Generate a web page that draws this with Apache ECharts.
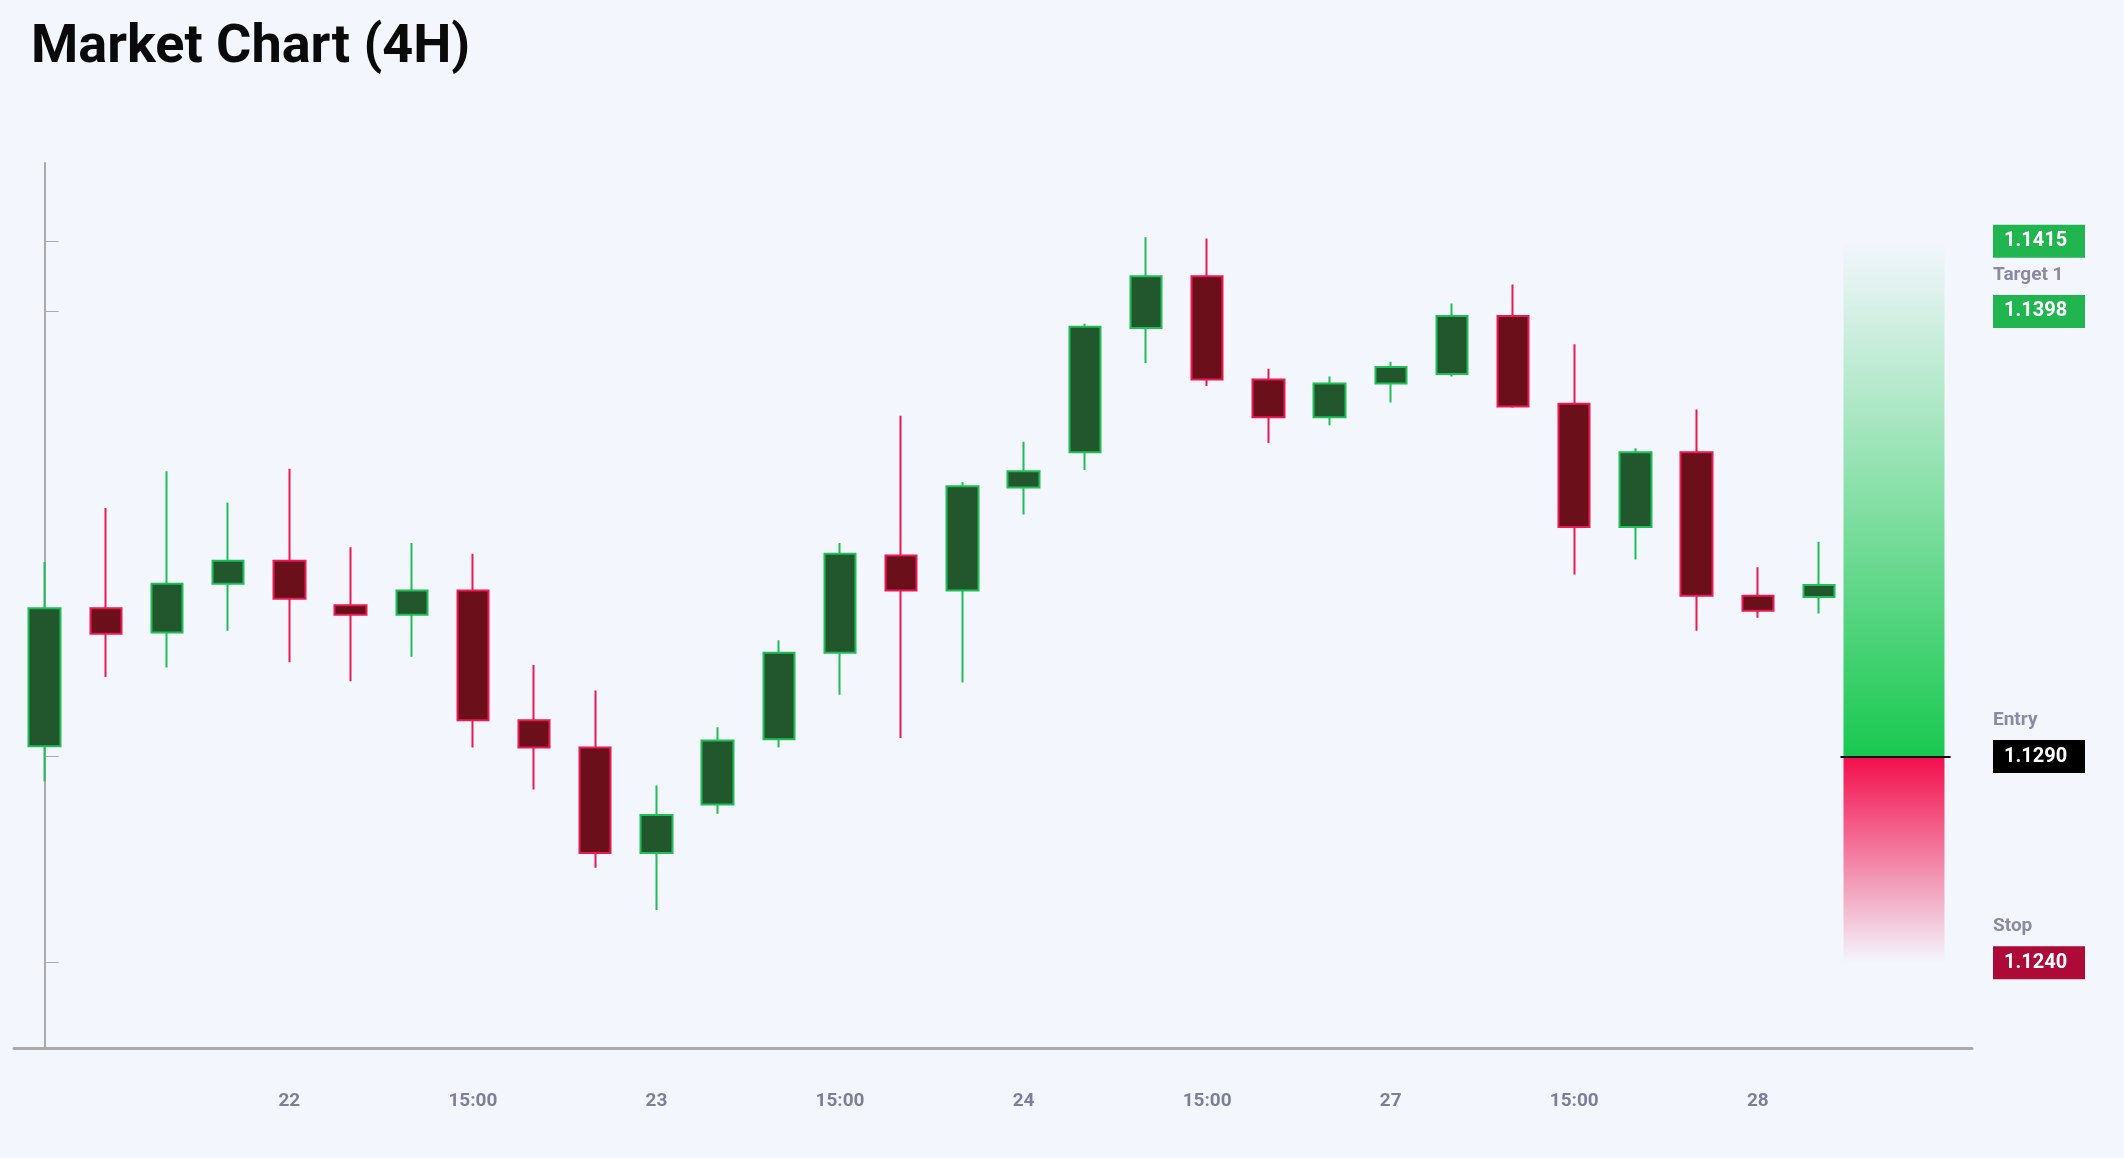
<!DOCTYPE html>
<html><head><meta charset="utf-8">
<script src="https://cdn.jsdelivr.net/npm/echarts@6/dist/echarts.min.js"></script>
<style>html,body{margin:0;padding:0;background:#f3f6fd}#c{width:2124px;height:1158px}</style>
</head><body><div id="c"></div>
<script>
// 4H candles: [open, close, low, high]
const candles = [
  [1.12925,1.13260,1.12840,1.13372],
  [1.13260,1.13198,1.13093,1.13503],
  [1.13201,1.13319,1.13116,1.13592],
  [1.13319,1.13375,1.13205,1.13516],
  [1.13375,1.13283,1.13129,1.13598],
  [1.13267,1.13244,1.13083,1.13408],
  [1.13244,1.13303,1.13142,1.13418],
  [1.13303,1.12988,1.12922,1.13392],
  [1.12988,1.12922,1.12820,1.13122],
  [1.12922,1.12666,1.12630,1.13060],
  [1.12666,1.12758,1.12528,1.12830],
  [1.12784,1.12939,1.12761,1.12971],
  [1.12942,1.13152,1.12922,1.13182],
  [1.13152,1.13392,1.13050,1.13418],
  [1.13388,1.13303,1.12945,1.13727],
  [1.13303,1.13556,1.13080,1.13566],
  [1.13553,1.13592,1.13487,1.13664],
  [1.13638,1.13943,1.13595,1.13950],
  [1.13940,1.14065,1.13855,1.14160],
  [1.14065,1.13815,1.13799,1.14157],
  [1.13815,1.13723,1.13661,1.13841],
  [1.13723,1.13805,1.13704,1.13822],
  [1.13805,1.13845,1.13759,1.13858],
  [1.13828,1.13969,1.13822,1.13999],
  [1.13969,1.13749,1.13746,1.14045],
  [1.13756,1.13457,1.13342,1.13900],
  [1.13457,1.13638,1.13378,1.13648],
  [1.13638,1.13290,1.13205,1.13742],
  [1.13290,1.13254,1.13237,1.13359],
  [1.13287,1.13316,1.13247,1.13421]
];
const tickLabels = {4:'22',7:'15:00',10:'23',13:'15:00',16:'24',19:'15:00',22:'27',25:'15:00',28:'28'};
const categories = Array.from({length:32},(_,i)=>String(i));
const levelNames = ['Target 2','Target 1','Entry','Stop'];
const levelValues = [1.1415,1.1398,1.1290,1.1240];
const levelKeys = ['g','g','k','r'];
const entry = 1.1290, target2 = 1.1415, stop = 1.1240;
const zoneX = [29.4, 31.05];

const chart = echarts.init(document.getElementById('c'));
const yMin = 1.12193, yMax = 1.1434;
const font = 'Roboto';
chart.setOption({
  backgroundColor:'#f3f6fd',
  animation:false,
  title:{text:'Market Chart (4H)',left:26,top:16,textStyle:{fontFamily:font,fontSize:54,fontWeight:'bold',color:'#0a0a0a'}},
  grid:{left:14,right:152,top:163,bottom:110},
  xAxis:[{
    type:'category',data:categories,boundaryGap:true,
    axisLine:{lineStyle:{color:'#aaaaaa',width:3}},
    axisTick:{length:19,lineStyle:{color:'#aaaaaa'},alignWithLabel:true,interval:(i)=>tickLabels[i]!==undefined},
    axisLabel:{interval:(i)=>tickLabels[i]!==undefined,formatter:(v,i)=>tickLabels[i]||'',margin:44,fontFamily:font,fontSize:19,fontWeight:'bold',color:'#7c7f9a'},
    splitLine:{show:false}
  },{
    type:'value',min:-0.5,max:31.5,show:false
  }],
  yAxis:[{
    type:'value',position:'right',min:yMin,max:yMax,scale:true,
    axisLine:{show:true,lineStyle:{color:'#aaaaaa',width:2}},
    axisTick:{show:true,length:14,lineStyle:{color:'#aaaaaa'},customValues:levelValues},
    splitLine:{show:false},
    axisLabel:{customValues:levelValues,margin:21,
      formatter:(v)=>{const i=levelValues.findIndex(x=>Math.abs(x-v)<1e-7);return i<0?'':'{'+levelKeys[i]+'|'+v.toFixed(4)+'}';},
      rich:{
        g:{backgroundColor:'#21b550',color:'#fff',fontFamily:font,fontSize:20,fontWeight:'bold',width:70,height:33,padding:[0,11],lineHeight:33},
        k:{backgroundColor:'#000',color:'#fff',fontFamily:font,fontSize:20,fontWeight:'bold',width:70,height:33,padding:[0,11],lineHeight:33},
        r:{backgroundColor:'#ad0a38',color:'#fff',fontFamily:font,fontSize:20,fontWeight:'bold',width:70,height:33,padding:[0,11],lineHeight:33}
      }}
  },{
    type:'value',position:'right',min:yMin,max:yMax,
    axisLine:{show:false},axisTick:{show:false},splitLine:{show:false},
    axisLabel:{customValues:levelValues,margin:21,
      formatter:(v)=>{const i=levelValues.findIndex(x=>Math.abs(x-v)<1e-7);return i<0?'':'{n|'+levelNames[i]+'}\n{s|}';},
      rich:{n:{color:'#8a8aa3',fontFamily:font,fontSize:19,fontWeight:'bold',lineHeight:26,padding:[0,0,0,0]},s:{height:72,lineHeight:72}}}
  }],
  series:[{
    type:'candlestick',data:candles,barWidth:'52%',
    itemStyle:{color:'#22572e',color0:'#6b0f1a',borderColor:'#1fbf55',borderColor0:'#ec1a52',borderWidth:2}
  },{
    type:'line',xAxisIndex:1,yAxisIndex:0,data:[],silent:true,
    markArea:{silent:true,data:[
      [{coord:[zoneX[0],target2],itemStyle:{color:new echarts.graphic.LinearGradient(0,0,0,1,[{offset:0,color:'rgba(25,200,80,0)'},{offset:1,color:'rgba(25,200,80,1)'}])}},{coord:[zoneX[1],entry]}],
      [{coord:[zoneX[0],entry],itemStyle:{color:new echarts.graphic.LinearGradient(0,0,0,1,[{offset:0,color:'rgba(242,14,76,1)'},{offset:1,color:'rgba(242,14,76,0)'}])}},{coord:[zoneX[1],stop]}]
    ]},
    markLine:{silent:true,symbol:'none',label:{show:false},lineStyle:{color:'#111',width:2,type:'solid'},
      data:[[{coord:[29.35,entry]},{coord:[31.15,entry]}]]}
  }]
});
</script></body></html>
